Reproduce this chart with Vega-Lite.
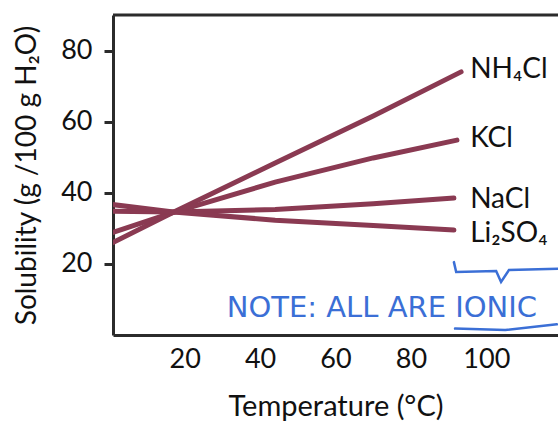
{
  "$schema": "https://vega.github.io/schema/vega-lite/v6.json",
  "autosize": {"type": "none"},
  "width": 445,
  "height": 320,
  "padding": {"left": 113, "top": 15, "right": 0, "bottom": 90},
  "background": "white",
  "config": {"view": {"stroke": null}, "font": "Lato"},
  "datasets": {
    "curves": [
      {"salt": "NH4Cl", "T": 0, "S": 25.5},
      {"salt": "NH4Cl", "T": 17, "S": 34.5},
      {"salt": "NH4Cl", "T": 44, "S": 48.4},
      {"salt": "NH4Cl", "T": 70, "S": 61.6},
      {"salt": "NH4Cl", "T": 93.3, "S": 74.0},
      {"salt": "KCl", "T": 0, "S": 28.5},
      {"salt": "KCl", "T": 17, "S": 34.5},
      {"salt": "KCl", "T": 44, "S": 43.0},
      {"salt": "KCl", "T": 70, "S": 49.8},
      {"salt": "KCl", "T": 92.2, "S": 54.8},
      {"salt": "NaCl", "T": 0, "S": 34.8},
      {"salt": "NaCl", "T": 17, "S": 34.6},
      {"salt": "NaCl", "T": 44, "S": 35.3},
      {"salt": "NaCl", "T": 70, "S": 36.9},
      {"salt": "NaCl", "T": 91.4, "S": 38.5},
      {"salt": "Li2SO4", "T": 0, "S": 36.8},
      {"salt": "Li2SO4", "T": 17, "S": 34.6},
      {"salt": "Li2SO4", "T": 44, "S": 32.3},
      {"salt": "Li2SO4", "T": 70, "S": 30.8},
      {"salt": "Li2SO4", "T": 91.4, "S": 29.5}
    ],
    "labels": [
      {"label": "NH₄Cl", "T": 95.7, "S": 74.5},
      {"label": "KCl", "T": 95.7, "S": 55.0},
      {"label": "NaCl", "T": 95.7, "S": 38.0},
      {"label": "Li₂SO₄", "T": 95.7, "S": 28.5}
    ],
    "note": [
      {"text": "NOTE: ALL ARE IONIC", "T": 72.3, "S": 7.6}
    ],
    "marks": [
      {"id": "underline", "T": 91.7, "S": 1.8},
      {"id": "underline", "T": 105, "S": 1.4},
      {"id": "underline", "T": 118.7, "S": 3.0},
      {"id": "brace", "T": 91.4, "S": 20.5},
      {"id": "brace", "T": 92.0, "S": 17.7},
      {"id": "brace", "T": 102.6, "S": 18.0},
      {"id": "brace", "T": 103.9, "S": 14.9},
      {"id": "brace", "T": 106.0, "S": 18.3},
      {"id": "brace", "T": 119, "S": 18.6}
    ],
    "frame": [
      {"S": 90}
    ]
  },
  "layer": [
    {
      "data": {"name": "curves"},
      "mark": {"type": "line", "color": "#8a3a52", "strokeWidth": 5, "strokeCap": "round", "clip": true},
      "encoding": {
        "x": {
          "field": "T", "type": "quantitative",
          "scale": {"domain": [1, 119], "nice": false, "zero": false},
          "axis": {
            "values": [20, 40, 60, 80, 100], "ticks": false, "grid": false,
            "domainWidth": 3, "domainColor": "#2b2b2b",
            "labelFontSize": 27, "labelColor": "#111", "labelPadding": 11,
            "title": "Temperature (°C)", "titleFontSize": 29, "titleFontWeight": "normal",
            "titleColor": "#111", "titlePadding": 20
          }
        },
        "y": {
          "field": "S", "type": "quantitative",
          "scale": {"domain": [0, 90], "nice": false},
          "axis": {
            "values": [20, 40, 60, 80], "grid": false,
            "tickSize": 9, "tickWidth": 3, "tickColor": "#2b2b2b",
            "domainWidth": 3, "domainColor": "#2b2b2b",
            "labelFontSize": 27, "labelColor": "#111", "labelPadding": 12,
            "title": "Solubility (g /100 g H₂O)", "titleFontSize": 28, "titleFontWeight": "normal",
            "titleColor": "#111", "titlePadding": 19
          }
        },
        "detail": {"field": "salt"}
      }
    },
    {
      "data": {"name": "frame"},
      "mark": {"type": "rule", "color": "#2b2b2b", "strokeWidth": 3},
      "encoding": {"y": {"field": "S", "type": "quantitative"}}
    },
    {
      "data": {"name": "labels"},
      "mark": {"type": "text", "align": "left", "baseline": "middle", "fontSize": 28, "color": "#111"},
      "encoding": {
        "x": {"field": "T", "type": "quantitative"},
        "y": {"field": "S", "type": "quantitative"},
        "text": {"field": "label"}
      }
    },
    {
      "data": {"name": "note"},
      "mark": {"type": "text", "align": "center", "baseline": "middle", "fontSize": 29, "font": "DejaVu Sans", "color": "#3b6fd6", "clip": false},
      "encoding": {
        "x": {"field": "T", "type": "quantitative"},
        "y": {"field": "S", "type": "quantitative"},
        "text": {"field": "text"}
      }
    },
    {
      "data": {"name": "marks"},
      "mark": {"type": "line", "color": "#3b6fd6", "strokeWidth": 2.5, "strokeCap": "round"},
      "encoding": {
        "x": {"field": "T", "type": "quantitative"},
        "y": {"field": "S", "type": "quantitative"},
        "detail": {"field": "id"}
      }
    }
  ]
}
